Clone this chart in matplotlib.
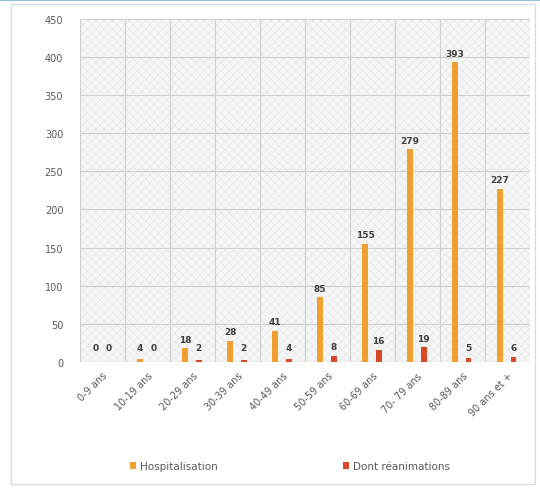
import matplotlib.pyplot as plt
import matplotlib.patches as mpatches
import numpy as np

# Donnees
tranches = ["0-9 ans", "10-19 ans", "20-29 ans", "30-39 ans", "40-49 ans",
            "50-59 ans", "60-69 ans", "70- 79 ans", "80-89 ans", "90 ans et +"]
hospitalisation = [0, 4, 18, 28, 41, 85, 155, 279, 393, 227]
reanimations = [0, 0, 2, 2, 4, 8, 16, 19, 5, 6]

c_hosp = '#F0A030'
c_rea = '#D9482B'
c_txt = '#595959'

plt.rcParams['hatch.linewidth'] = 0.4

fig = plt.figure(figsize=(5.4, 4.89), dpi=100)
ax = fig.add_axes([0.148, 0.258, 0.833, 0.701])

# Cadre exterieur
fig.patches.append(mpatches.Rectangle((0.02, 0.008), 0.97, 0.982, transform=fig.transFigure,
                                      fill=False, edgecolor='#d8dde2', linewidth=1))
fig.patches.append(mpatches.Rectangle((0, 0.995), 1, 0.005, transform=fig.transFigure,
                                      facecolor='#8fc3d6', edgecolor='none'))

x = np.arange(len(tranches))
w = 0.13
ax.set_facecolor('#f6f6f6')
ax.add_patch(mpatches.Rectangle((-0.5, 0), len(tranches), 450, facecolor='none',
                                edgecolor='#e4e4e4', hatch='xxxx', linewidth=0, zorder=0))

b1 = ax.bar(x - 0.16, hospitalisation, w, color=c_hosp, label='Hospitalisation', zorder=3)
b2 = ax.bar(x + 0.14, reanimations, w, color=c_rea, label='Dont réanimations', zorder=3)

for xi, v in zip(x, hospitalisation):
    ax.text(xi - 0.16, max(v + 6, 13), str(v), ha='center', va='bottom', fontsize=6.5,
            fontweight='bold', color='#404040')
for xi, v in zip(x, reanimations):
    ax.text(xi + 0.14, max(v + 6, 13), str(v), ha='center', va='bottom',
            fontsize=6.5, fontweight='bold', color='#404040')

ax.set_xlim(-0.5, len(tranches) - 0.5)
ax.set_ylim(0, 450)
ax.set_yticks(range(0, 451, 50))
ax.set_xticks(x)
ax.set_xticklabels(tranches, rotation=45, ha='right', rotation_mode='anchor')
ax.set_xticks(np.arange(-0.5, len(tranches), 1), minor=True)
ax.tick_params(axis='both', which='both', length=0, labelsize=7, colors=c_txt)
ax.tick_params(axis='x', pad=6)
ax.tick_params(axis='y', pad=12)
ax.grid(True, axis='y', color='#d0d0d0', linewidth=0.8, zorder=1)
ax.grid(True, axis='x', which='minor', color='#d0d0d0', linewidth=0.8, zorder=1)
for s in ax.spines.values():
    s.set_visible(False)
ax.axhline(0, color='#c8c8c8', linewidth=0.8, zorder=2)

leg = fig.legend(handles=[b1, b2], loc='center', bbox_to_anchor=(0.537, 0.045), ncol=2,
                 frameon=False, fontsize=7.5, handlelength=0.6, handleheight=0.6,
                 columnspacing=12, handletextpad=0.4)
for t in leg.get_texts():
    t.set_color(c_txt)

plt.savefig('out.png', dpi=100)
